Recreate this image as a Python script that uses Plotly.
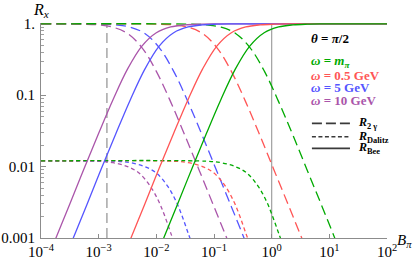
import plotly.graph_objects as go

SERIF = "Liberation Serif, Times New Roman, serif"

# ---------------- data ----------------
# colours per omega
col_mpi = "#00aa00"   # omega = m_pi
col_05 = "#ff5555"    # omega = 0.5 GeV
col_5 = "#5555ff"     # omega = 5 GeV
col_10 = "#aa55aa"    # omega = 10 GeV

# R_Bee (solid)
bee_B_10 = [1.0e-4, 1.58e-4, 3.16e-4, 5.62e-4, 1.0e-3, 1.78e-3, 3.16e-3, 5.62e-3, 1.0e-2, 1.78e-2, 3.16e-2, 5.62e-2, 0.1, 0.316, 100]
bee_B_5 = [2.0e-4, 3.16e-4, 6.32e-4, 1.12e-3, 2.0e-3, 3.56e-3, 6.32e-3, 1.12e-2, 2.0e-2, 3.56e-2, 6.32e-2, 0.112, 0.2, 0.632, 100]
bee_B_05 = [2.0e-3, 3.16e-3, 6.32e-3, 1.12e-2, 2.0e-2, 3.56e-2, 6.32e-2, 0.112, 0.2, 0.356, 0.632, 1.12, 2.0, 6.32, 100]
bee_B_mpi = [7.4e-3, 1.17e-2, 2.34e-2, 4.17e-2, 7.41e-2, 0.132, 0.234, 0.417, 0.741, 1.32, 2.34, 4.17, 7.41, 23.4, 100]
bee_R = [3.0e-4, 7.6e-4, 0.0030, 0.0095, 0.0293, 0.0872, 0.232, 0.488, 0.751, 0.905, 0.968, 0.990, 0.997, 1.0, 1.0]

# R_2gamma (long dash)
gg_B_10 = [1e-4, 5.62e-4, 1e-3, 1.78e-3, 3.16e-3, 5.62e-3, 1e-2, 1.78e-2, 3.16e-2, 5.62e-2, 0.1, 0.178, 0.316]
gg_B_5 = [1e-4, 1.12e-3, 2e-3, 3.56e-3, 6.32e-3, 1.12e-2, 2e-2, 3.56e-2, 6.32e-2, 0.112, 0.2, 0.356, 0.632]
gg_B_05 = [1e-4, 1.12e-2, 2e-2, 3.56e-2, 6.32e-2, 0.112, 0.2, 0.356, 0.632, 1.12, 2.0, 3.56, 6.32]
gg_B_mpi = [1e-4, 4.2e-2, 7.5e-2, 0.133, 0.237, 0.42, 0.75, 1.33, 2.37, 4.2, 7.5, 13.3, 23.7]
gg_R = [1.0, 0.99, 0.965, 0.897, 0.734, 0.466, 0.216, 0.0801, 0.0268, 0.00863, 0.00275, 8.7e-4, 2.75e-4]

# R_Dalitz (short dash)
dal_B_10 = [1e-4, 1e-3, 1.78e-3, 3.16e-3, 5.01e-3, 7.94e-3, 1.12e-2, 1.41e-2, 1.78e-2, 2.24e-2]
dal_B_5 = [1e-4, 2e-3, 3.56e-3, 6.32e-3, 1.0e-2, 1.59e-2, 2.24e-2, 2.82e-2, 3.56e-2, 4.47e-2]
dal_B_05 = [1e-4, 2e-2, 3.56e-2, 6.32e-2, 0.1, 0.159, 0.224, 0.282, 0.356, 0.447]
dal_B_mpi = [1e-4, 7.4e-2, 0.132, 0.234, 0.371, 0.588, 0.829, 1.04, 1.32, 1.66]
dal_R = [0.012, 0.0119, 0.01135, 0.0100, 0.00813, 0.00525, 0.00316, 0.00200, 0.00117, 7.1e-4]

# reference vertical lines
vline_dashed_B = 1.39e-3
vline_solid_B = 1.0
vline_R = [0.001, 1.0]

x_tickvals = [1e-4, 1e-3, 1e-2, 1e-1, 1, 10, 100]
x_ticktext = ["10<sup>−4</sup>", "10<sup>−3</sup>", "10<sup>−2</sup>", "10<sup>−1</sup>",
              "10<sup>0</sup>", "10<sup>1</sup>", "10<sup>2</sup>"]
y_tickvals = [1, 0.1, 0.01, 0.001]
y_ticktext = ["1.", "0.1", "0.01", "0.001"]
y_minor = [m * 10.0 ** k for k in (-3, -2, -1) for m in range(2, 10)]

legend_omega = ["<b><i>ω</i> = <i>m</i><sub><i>π</i></sub></b>",
                "<b><i>ω</i> = 0.5 GeV</b>",
                "<b><i>ω</i> = 5 GeV</b>",
                "<b><i>ω</i> = 10 GeV</b>"]
legend_colors = [col_mpi, col_05, col_5, col_10]
legend_styles = ["<b><i>R</i><sub>2 γ</sub></b>", "<b><i>R</i><sub>Dalitz</sub></b>", "<b><i>R</i><sub>Bee</sub></b>"]

# ---------------- figure ----------------
LONG = "10px,5px"
SHORT = "4px,3px"
LW = 1.3

fig = go.Figure()

# reference lines
fig.add_trace(go.Scatter(x=[vline_dashed_B] * 2, y=vline_R, mode="lines",
                         line=dict(color="#a0a0a0", width=1.4, dash="10px,5px"), hoverinfo="skip"))
fig.add_trace(go.Scatter(x=[vline_solid_B] * 2, y=vline_R, mode="lines",
                         line=dict(color="#a0a0a0", width=1.2), hoverinfo="skip"))

series = [
    (gg_B_10, gg_R, col_10, LONG), (gg_B_5, gg_R, col_5, LONG),
    (gg_B_05, gg_R, col_05, LONG), (gg_B_mpi, gg_R, col_mpi, LONG),
    (dal_B_10, dal_R, col_10, SHORT), (dal_B_5, dal_R, col_5, SHORT),
    (dal_B_05, dal_R, col_05, SHORT), (dal_B_mpi, dal_R, col_mpi, SHORT),
    (bee_B_10, bee_R, col_10, "solid"), (bee_B_5, bee_R, col_5, "solid"),
    (bee_B_05, bee_R, col_05, "solid"), (bee_B_mpi, bee_R, col_mpi, "solid"),
]
for xb, yr, c, d in series:
    fig.add_trace(go.Scatter(x=xb, y=yr, mode="lines",
                             line=dict(color=c, width=LW, dash=d, shape="spline", smoothing=1.0),
                             hoverinfo="skip"))

fig.update_layout(
    width=415, height=261,
    margin=dict(l=41, r=28, t=23, b=23, autoexpand=False),
    paper_bgcolor="white", plot_bgcolor="white",
    showlegend=False,
    font=dict(family=SERIF, size=15, color="black"),
)
fig.update_xaxes(type="log", range=[-4, 2], showgrid=False, zeroline=False, automargin=False,
                 showline=True, linecolor="#8c8c8c", linewidth=1,
                 ticks="inside", ticklen=4, tickcolor="#8c8c8c",
                 tickvals=x_tickvals, ticktext=x_ticktext,
                 tickfont=dict(family=SERIF, size=15, color="black"))
fig.update_yaxes(type="log", range=[-3, 0.012], showgrid=False, zeroline=False, automargin=False,
                 showline=True, linecolor="#8c8c8c", linewidth=1,
                 ticks="inside", ticklen=5, tickcolor="#8c8c8c",
                 tickvals=y_tickvals, ticktext=y_ticktext,
                 tickfont=dict(family=SERIF, size=15, color="black"),
                 ticklabelstandoff=2,
                 minor=dict(tickvals=y_minor, ticks="inside", ticklen=2.5, tickcolor="#a0a0a0"))

# axis labels
fig.add_annotation(x=0, y=1.06, xref="paper", yref="paper", xanchor="center", yanchor="middle",
                   text="<i>R</i><sub><i>x</i></sub>", showarrow=False,
                   font=dict(family=SERIF, size=16, color="black"))
fig.add_annotation(x=1.024, y=-0.014, xref="paper", yref="paper", xanchor="left", yanchor="middle",
                   text="<i>B</i><sub><i>π</i></sub>", showarrow=False,
                   font=dict(family=SERIF, size=15, color="black"))

# legend text
fig.add_annotation(x=0.776, y=0.926, xref="paper", yref="paper", xanchor="left", yanchor="middle",
                   text="<b><i>θ</i> = <i>π</i>/2</b>", showarrow=False,
                   font=dict(family=SERIF, size=13, color="black"))
for i, (txt, c) in enumerate(zip(legend_omega, legend_colors)):
    fig.add_annotation(x=0.776, y=[0.820, 0.758, 0.701, 0.639][i], xref="paper", yref="paper",
                       xanchor="left", yanchor="middle", text=txt, showarrow=False,
                       font=dict(family=SERIF, size=13, color=c))

leg_y = [0.533, 0.471, 0.417]
leg_dash = ["10px,4px", "4px,2.5px", "solid"]
for yy, dd, txt in zip(leg_y, leg_dash, legend_styles):
    fig.add_shape(type="line", xref="paper", yref="paper", x0=0.783, x1=0.893, y0=yy, y1=yy,
                  line=dict(color="#3a3a3a", width=1.6, dash=dd))
    fig.add_annotation(x=0.91, y=yy, xref="paper", yref="paper", xanchor="left", yanchor="middle",
                       text=txt, showarrow=False, font=dict(family=SERIF, size=12, color="black"))

fig.write_html("out.html", config={"displayModeBar": False},
               post_script="document.body.style.margin='0';document.body.style.overflow='hidden';")
